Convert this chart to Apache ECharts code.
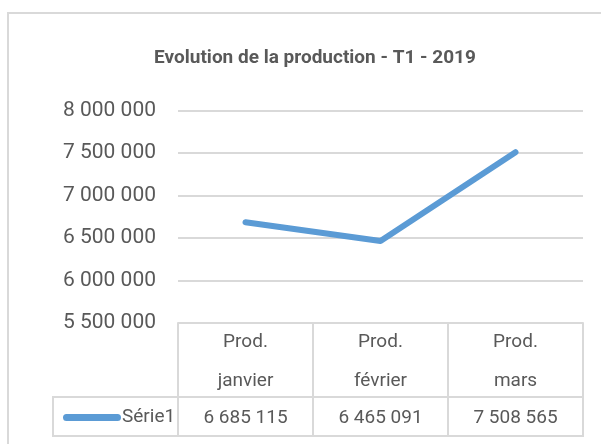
<!DOCTYPE html>
<html>
<head>
<meta charset="utf-8">
<script src="https://cdn.jsdelivr.net/npm/echarts@6/dist/echarts.min.js"></script>
<style>html,body{margin:0;padding:0;background:#fff;}#c{width:601px;height:444px;}</style>
</head>
<body>
<div id="c"></div>
<script>
const titleText = 'Evolution de la production - T1 - 2019';
const categories = ['Prod. janvier', 'Prod. février', 'Prod. mars'];
const seriesName = 'Série1';
const values = [6685115, 6465091, 7508565];
const yMin = 5500000, yMax = 8000000, yStep = 500000;

const fmt = v => String(v).replace(/\B(?=(\d{3})+(?!\d))/g, ' ');
const FONT = 'Roboto';
const TXT = '#595959';
const LINE = '#d9d9d9';

const chart = echarts.init(document.getElementById('c'), null, {renderer: 'canvas'});
chart.setOption({
  animation: false,
  backgroundColor: '#fff',
  title: {
    text: titleText, left: 310, top: 44, textAlign: 'center',
    textStyle: {fontFamily: FONT, fontWeight: 'bold', fontSize: 19, color: TXT}
  },
  legend: {
    data: [seriesName], left: 58, top: 403, itemWidth: 58, itemHeight: 7,
    icon: 'path://M3.5,0 H54.5 A3.5,3.5 0 0 1 54.5,7 H3.5 A3.5,3.5 0 0 1 3.5,0 Z',
    textStyle: {fontFamily: FONT, fontSize: 19, color: TXT, padding: [0, 0, 0, -4]}
  },
  grid: {left: 178, right: 18, top: 110.5, bottom: 121, containLabel: false},
  xAxis: [{
    type: 'category', data: categories, boundaryGap: true,
    axisLine: {show: true, lineStyle: {color: LINE, width: 2}},
    axisTick: {show: true, interval: 0, length: 113, lineStyle: {color: LINE, width: 2}},
    axisLabel: {
      interval: 0, margin: 0, lineHeight: 39, fontFamily: FONT, fontSize: 19, color: TXT,
      formatter: v => v.replace(' ', '\n')
    }
  }, {
    type: 'category', data: categories, boundaryGap: true, position: 'bottom', offset: 74,
    axisLine: {show: false}, axisTick: {show: false},
    axisLabel: {
      interval: 0, margin: 12, fontFamily: FONT, fontSize: 19, color: TXT,
      formatter: (v, i) => fmt(values[i])
    }
  }],
  yAxis: {
    type: 'value', min: yMin, max: yMax, interval: yStep,
    axisLine: {show: false}, axisTick: {show: false},
    splitLine: {lineStyle: {color: LINE, width: 2}},
    axisLabel: {margin: 22, fontFamily: FONT, fontSize: 21, color: TXT, formatter: v => fmt(v)}
  },
  graphic: [
    {type: 'rect', shape: {x: 8, y: 13, width: 620, height: 460}, style: {fill: null, stroke: LINE, lineWidth: 2}, silent: true, z: -1},
    {type: 'rect', shape: {x: 53, y: 397, width: 530, height: 39}, style: {fill: null, stroke: LINE, lineWidth: 2}, silent: true}
  ],
  series: [{
    name: seriesName, type: 'line', data: values, xAxisIndex: 0,
    symbol: 'none', smooth: false,
    lineStyle: {color: '#5B9BD5', width: 6, cap: 'round', join: 'round'},
    itemStyle: {color: '#5B9BD5'}
  }]
});
</script>
</body>
</html>
